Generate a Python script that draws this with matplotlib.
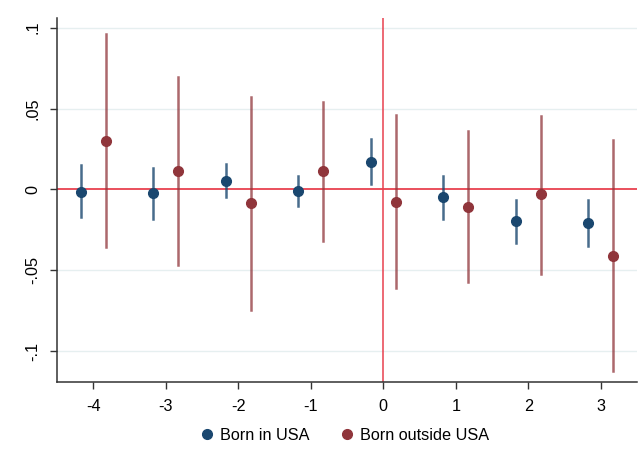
import matplotlib
matplotlib.use("Agg")
import matplotlib.pyplot as plt
from matplotlib.lines import Line2D

plt.rcParams['font.family'] = ['Liberation Sans', 'DejaVu Sans']

periods = [-4, -3, -2, -1, 0, 1, 2, 3]
tick_labels = ["-4", "-3", "-2", "-1", "0", "1", "2", "3"]

usa_est = [-0.0014, -0.0023, 0.0052, -0.0012, 0.0172, -0.0048, -0.0197, -0.0205]
usa_lo = [-0.0172, -0.0180, -0.0048, -0.0104, 0.0035, -0.0180, -0.0331, -0.0352]
usa_hi = [0.0149, 0.0135, 0.0155, 0.0083, 0.0309, 0.0085, -0.0064, -0.0064]

out_est = [0.0302, 0.0116, -0.0087, 0.0112, -0.0075, -0.0106, -0.0031, -0.0410]
out_lo = [-0.0358, -0.0466, -0.0745, -0.0317, -0.0611, -0.0573, -0.0520, -0.1124]
out_hi = [0.0963, 0.0694, 0.0570, 0.0542, 0.0462, 0.0358, 0.0453, 0.0306]

y_ticks = [-0.1, -0.05, 0, 0.05, 0.1]
y_tick_labels = ["-.1", "-.05", "0", ".05", ".1"]

blue = "#1a476f"
red = "#90353b"
ref_red = "#e8414f"

fig = plt.figure(figsize=(6.43, 4.71), dpi=100)
ax = fig.add_axes([0.0887, 0.189, 0.902, 0.773])

off = 0.17
for i, p in enumerate(periods):
    ax.plot([p - off, p - off], [usa_lo[i], usa_hi[i]], color=blue, lw=1.8, alpha=0.8, zorder=3)
    ax.plot([p + off, p + off], [out_lo[i], out_hi[i]], color=red, lw=1.8, alpha=0.75, zorder=3)
ax.plot([p - off for p in periods], usa_est, 'o', color=blue, ms=7, zorder=4)
ax.plot([p + off for p in periods], out_est, 'o', color=red, ms=7, zorder=4)

ax.axhline(0, color=ref_red, lw=1.3, zorder=2)
ax.axvline(0, color=ref_red, lw=1.3, alpha=0.85, zorder=2)

for yt in y_ticks:
    if yt != 0:
        ax.axhline(yt, color="#e6eff0", lw=1.0, zorder=1)

ax.set_xlim(-4.5, 3.5)
ax.set_ylim(-0.119, 0.106)
ax.set_xticks(periods)
ax.set_xticklabels(tick_labels, fontsize=11.7)
ax.set_yticks(y_ticks)
ax.set_yticklabels(y_tick_labels, fontsize=11.7, rotation=90, va='center')
ax.tick_params(direction='out', length=5, width=1, color="#333333")
ax.tick_params(axis='x', pad=7)
ax.tick_params(axis='y', pad=7)

for s in ['top', 'right']:
    ax.spines[s].set_visible(False)
for s in ['left', 'bottom']:
    ax.spines[s].set_color("#333333")
    ax.spines[s].set_linewidth(1.1)

handles = [Line2D([], [], marker='o', ls='', color=blue, ms=7, label="Born in USA"),
           Line2D([], [], marker='o', ls='', color=red, ms=7, label="Born outside USA")]
fig.legend(handles=handles, loc='center', bbox_to_anchor=(0.535, 0.076), ncol=2,
           frameon=False, fontsize=11.7, handletextpad=0.3, columnspacing=1.8, handlelength=1.0)

fig.savefig("out.png", dpi=100, facecolor="white")
